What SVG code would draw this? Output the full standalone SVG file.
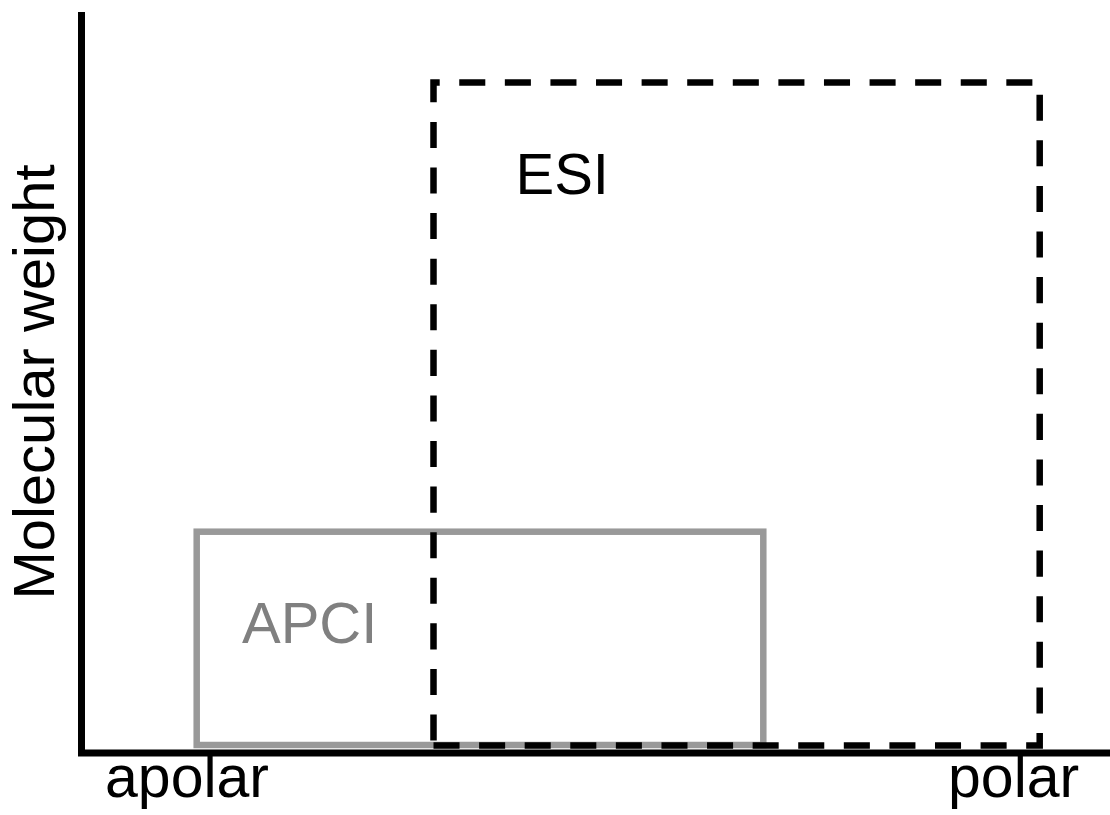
<svg xmlns="http://www.w3.org/2000/svg" width="1110" height="815" viewBox="0 0 1110 815">
  <style>
    .lbl { font-family: "Liberation Sans", Arial, sans-serif; font-size: 58px; fill: #000; }
    .axis-lbl { font-size: 59px; }
    .apci-box { fill: none; stroke: #999999; stroke-width: 6.5; }
    .apci-txt { fill: #808080; }
    .esi-box { fill: none; stroke: #000; stroke-width: 6.5; stroke-dasharray: 26.05 19.54; }
    .axis { fill: none; stroke: #000; stroke-width: 7; stroke-linejoin: miter; }
  </style>
  <rect width="1110" height="815" fill="#fff"/>

  <!-- APCI region -->
  <g id="apci">
    <rect class="apci-box" x="196.7" y="531.7" width="566.6" height="213.3"/>
    <text class="lbl apci-txt" x="242" y="643.3">APCI</text>
  </g>

  <!-- ESI region -->
  <g id="esi">
    <path class="esi-box" d="M433.5,745.5 H1039.7 V82.5 H433.5 Z"/>
    <text class="lbl" x="515.5" y="194.3">ESI</text>
  </g>

  <!-- axes -->
  <g id="axes">
    <path class="axis" d="M81.5,12 V753 H1110"/>
  </g>

  <!-- axis labels -->
  <g id="labels">
    <text class="lbl axis-lbl" x="105" y="797">apolar</text>
    <text class="lbl axis-lbl" x="948" y="797">polar</text>
    <text class="lbl" text-anchor="middle" transform="translate(54,382) rotate(-90)">Molecular weight</text>
  </g>
</svg>
